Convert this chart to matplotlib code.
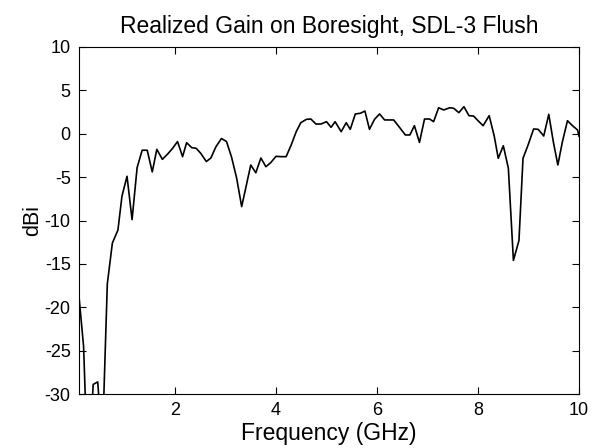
import matplotlib
matplotlib.use("Agg")
import matplotlib.pyplot as plt

plt.rcParams.update({
    "font.family": ["Liberation Sans", "DejaVu Sans"],
    "font.size": 13,
    "axes.linewidth": 0.8,
    "axes.unicode_minus": False,
})

# realized gain (GHz, dBi)
freq_ghz = [
    0.10, 0.19, 0.28, 0.38, 0.47, 0.56, 0.66, 0.76, 0.87, 0.95,
    1.05, 1.15, 1.25, 1.35, 1.45, 1.55, 1.64, 1.75, 1.86, 1.95,
    2.05, 2.15, 2.23, 2.33, 2.42, 2.51, 2.62, 2.71, 2.81, 2.92,
    3.02, 3.12, 3.22, 3.32, 3.50, 3.60, 3.70, 3.80, 3.90, 4.00,
    4.10, 4.20, 4.30, 4.40, 4.49, 4.60, 4.69, 4.79, 4.89, 5.00,
    5.09, 5.17, 5.29, 5.39, 5.47, 5.57, 5.67, 5.76, 5.85, 5.95,
    6.05, 6.15, 6.25, 6.33, 6.45, 6.56, 6.65, 6.74, 6.84, 6.94,
    7.04, 7.12, 7.22, 7.32, 7.44, 7.52, 7.62, 7.72, 7.82, 7.91,
    8.00, 8.10, 8.22, 8.32, 8.40, 8.50, 8.60, 8.70, 8.81, 8.89,
    8.99, 9.10, 9.19, 9.30, 9.40, 9.49, 9.58, 9.67, 9.77, 9.87,
    9.97, 10.00,
]
gain_dbi = [
    -18.8, -24.5, -40.0, -28.9, -28.6, -36.0, -17.3, -12.6, -11.1, -7.2,
    -4.9, -9.9, -3.9, -1.9, -1.9, -4.4, -1.8, -2.95, -2.3, -1.7,
    -0.9, -2.64, -1.03, -1.6, -1.68, -2.26, -3.2, -2.8, -1.5, -0.55,
    -0.9, -2.7, -5.1, -8.4, -3.6, -4.5, -2.8, -3.8, -3.3, -2.6,
    -2.64, -2.64, -1.3, 0.24, 1.27, 1.66, 1.7, 1.12, 1.12, 1.39,
    0.74, 1.39, 0.24, 1.27, 0.51, 2.28, 2.36, 2.62, 0.51, 1.66,
    2.28, 1.59, 1.59, 1.59, 0.7, -0.14, -0.14, 0.93, -1.0, 1.7,
    1.7, 1.39, 3.0, 2.74, 3.0, 2.93, 2.43, 3.12, 2.08, 2.05,
    1.5, 0.93, 2.08, -0.26, -2.83, -1.38, -3.98, -14.6, -12.3, -2.83,
    -1.3, 0.55, 0.51, -0.26, 2.24, -0.92, -3.6, -0.92, 1.5, 0.93,
    0.43, -0.3,
]
x_ticks = [2, 4, 6, 8, 10]
y_ticks = [-30, -25, -20, -15, -10, -5, 0, 5, 10]

fig = plt.figure(figsize=(5.96, 4.48), dpi=100, facecolor="white")
ax = fig.add_axes([0.1326, 0.1205, 0.839, 0.7746])
ax.plot(freq_ghz, gain_dbi, color="black", lw=1.2)
ax.set_xlim(0.1, 10)
ax.set_ylim(-30, 10)
ax.set_xticks(x_ticks)
ax.set_yticks(y_ticks)
ax.tick_params(direction="in", length=5, width=0.8, top=True, right=True, pad=6)
ax.set_xlabel("Frequency (GHz)", fontsize=16.5, labelpad=2)
ax.set_ylabel("dBi", fontsize=15.5)
ax.yaxis.set_label_coords(-0.072, 0.5)
ax.set_title("Realized Gain on Boresight, SDL-3 Flush", fontsize=16.5, pad=10)

fig.savefig("out.png", dpi=100, facecolor="white")
plt.close(fig)
